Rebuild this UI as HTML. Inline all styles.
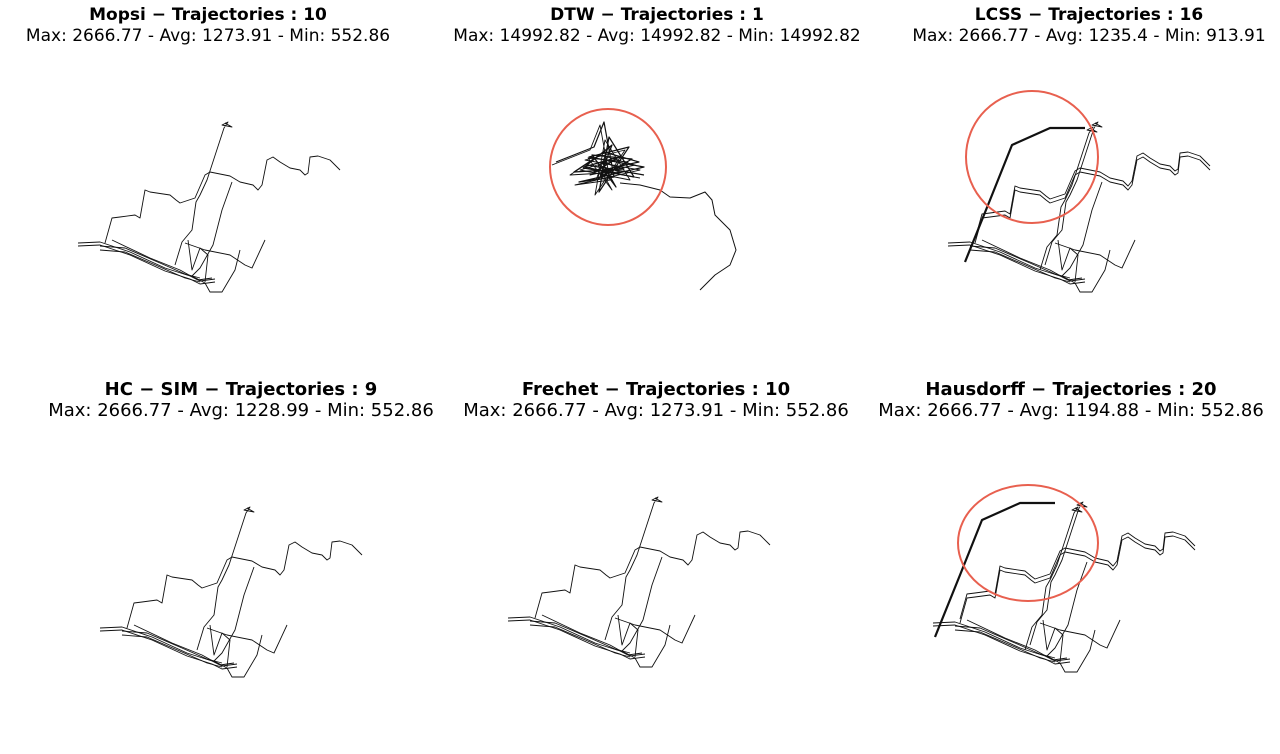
<!DOCTYPE html>
<html><head><meta charset="utf-8"><style>
body{margin:0;background:#fff;width:1280px;height:754px;overflow:hidden;font-family:"Liberation Sans","DejaVu Sans",sans-serif}
svg{position:absolute;left:0;top:0}
text{font-family:"DejaVu Sans","Liberation Sans",sans-serif;fill:#000}
</style></head><body>
<svg id="chart" width="1280" height="754"></svg>
<script>
const panelNames = ["Mopsi","DTW","LCSS","HC − SIM","Frechet","Hausdorff"];
const panelCounts = [10,1,16,9,10,20];
const panelMax = ["2666.77","14992.82","2666.77","2666.77","2666.77","2666.77"];
const panelAvg = ["1273.91","14992.82","1235.4","1228.99","1273.91","1194.88"];
const panelMin = ["552.86","14992.82","913.91","552.86","552.86","552.86"];
const trajA = [[225,123],[232,127],[222,125],[228,122],[224,128],[207,180],[200,195],[196,202],[192,230],[182,242],[175,265]];
const trajB = [[105,243],[112,218],[120,217],[135,215],[140,218],[145,190],[150,192],[170,195],[176,200],[180,203],[195,198],[205,175],[210,172],[230,176],[240,182],[253,185],[258,190],[262,185],[267,160],[273,157],[280,162],[290,168],[300,170],[305,175],[308,173],[310,157],[318,156],[330,160],[340,170]];
const trajC = [[232,182],[222,210],[213,245],[200,268],[192,276],[205,283],[210,292],[222,292],[235,270],[240,250]];
const trajD = [[78,243],[100,242],[130,252],[165,268],[190,276],[200,281],[215,279]];
const trajE = [[185,243],[205,250],[230,255],[245,265],[252,268],[265,240]];
const trajF = [[100,246],[125,248],[160,263],[185,274],[200,278]];
const trajG = [[112,240],[150,258],[180,270],[198,280],[212,278]];
const trajH = [[188,240],[192,270],[200,248],[208,255],[205,282]];
const thickExtra = [[95,262],[120,200],[142,145],[180,128],[215,128]];
const dtwTail = [[620,183],[640,185],[660,190],[670,197],[690,198],[705,192],[712,200],[715,215],[730,230],[736,250],[730,265],[715,275],[700,290]];
const dtwBlob = [[552,165],[590,150],[600,125],[610,180],[575,185],[640,170],[585,160],[625,150],[595,195],[605,140],[630,180],[580,170],[615,160],[590,175],[635,165],[600,155],[570,175],[620,172],[598,165],[612,190],[588,158],[628,162],[596,180],[608,148],[583,168],[640,178]];
const offsets = [[0,0],null,[870,0],[22,385],[430,375],[855,380]];
const extraPanels = [2,5];
const circles = [[1,608,167,58,58],[2,1032,157,66,66],[5,1028,543,70,58]];
const titlePos = [[208,20],[657,20],[1089,20],[241,395],[656,395],[1071,395]];
const fontSizes = [17,17,17,18,18,18];

const svg = document.getElementById('chart');
const NS = 'http://www.w3.org/2000/svg';
function mk(tag, attrs){const e=document.createElementNS(NS,tag);for(const k in attrs)e.setAttribute(k,attrs[k]);svg.appendChild(e);return e;}
function poly(pts,dx,dy,w,name){
  const e=mk('polyline',{points:pts.map(p=>(p[0]+dx)+','+(p[1]+dy)).join(' '),fill:'none',stroke:'#111','stroke-width':w,'stroke-linejoin':'round'});
  
  
}
panelNames.forEach((n,i)=>{
  const t=mk('text',{x:titlePos[i][0],y:titlePos[i][1],'text-anchor':'middle','font-weight':'bold','font-size':fontSizes[i]});
  t.textContent=n+' − Trajectories : '+panelCounts[i];
  
  
  const s=mk('text',{x:titlePos[i][0],y:titlePos[i][1]+21,'text-anchor':'middle','font-size':fontSizes[i]});
  s.textContent='Max: '+panelMax[i]+' - Avg: '+panelAvg[i]+' - Min: '+panelMin[i];
  
  
  const o=offsets[i];
  if(o){
    [trajA,trajB,trajC,trajD,trajE,trajF,trajG,trajH].forEach(tr=>poly(tr,o[0],o[1],0.9,'trajectory'));
    poly(trajD,o[0],o[1]+3,0.9,'trajectory');
    poly(trajF,o[0],o[1]+4,0.9,'trajectory');
    if(extraPanels.includes(i)){
      poly(thickExtra,o[0]+(i==5?-15:0),o[1]+(i==5?-5:0),2.2,'trajectory-cluster');
      poly(trajA,o[0]-5,o[1]+5,0.9,'trajectory');
      poly(trajB,o[0],o[1]-4,0.9,'trajectory');
    }
  }
});
poly(dtwBlob,0,0,0.9,'dtw-trajectory-cluster');
poly(dtwBlob.slice().reverse().map(p=>[p[0]+4,p[1]-3]),0,0,1.2,'dtw-trajectory-cluster');
poly(dtwTail,0,0,1,'dtw-trajectory-tail');
circles.forEach(c=>{
  const e=mk('ellipse',{cx:c[1],cy:c[2],rx:c[3],ry:c[4],fill:'none',stroke:'#e8604f','stroke-width':2});
  
  
});
</script>
</body></html>
